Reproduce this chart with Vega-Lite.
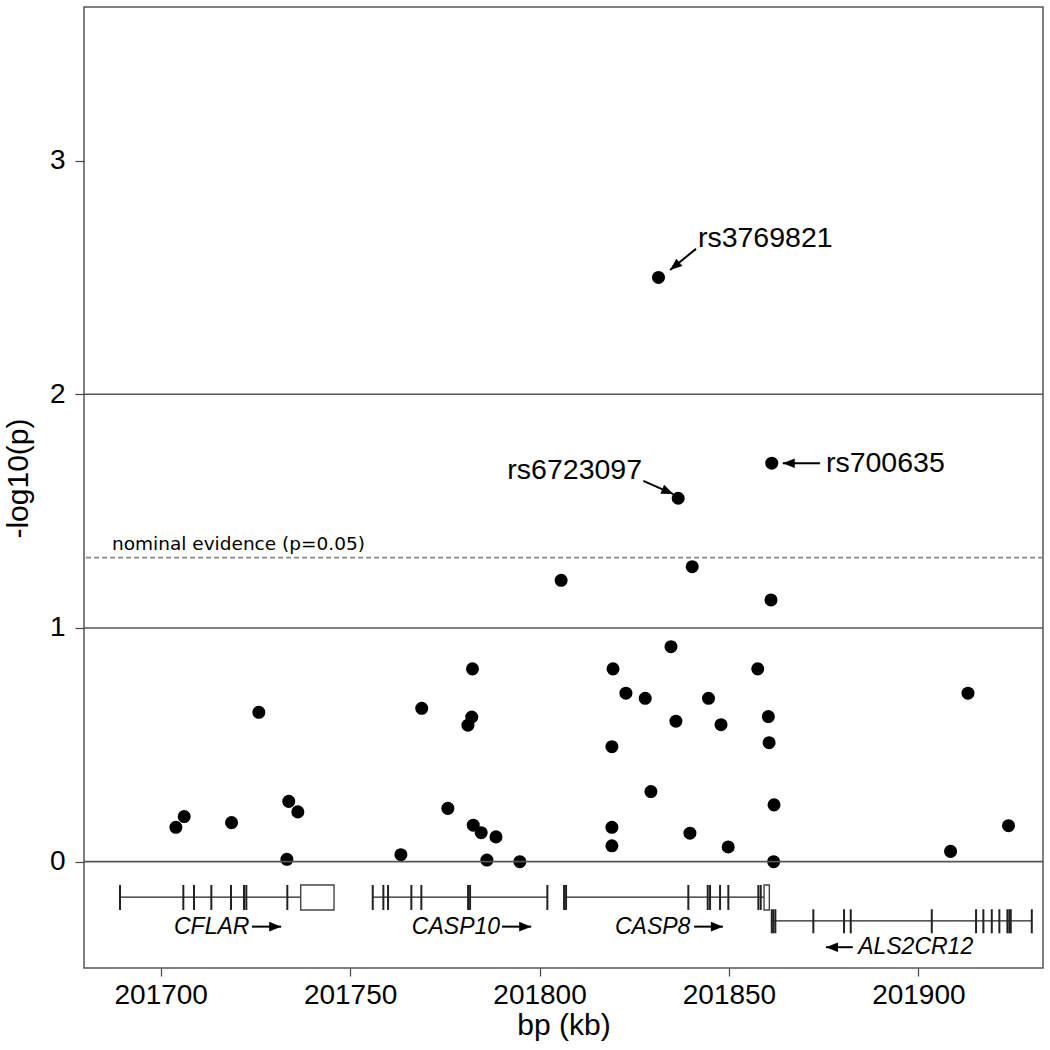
{
  "$schema": "https://vega.github.io/schema/vega-lite/v6.json",
  "width": 959,
  "height": 961,
  "autosize": {"type": "none"},
  "padding": {"left": 84, "top": 7, "right": 7, "bottom": 82},
  "background": "white",
  "config": {
    "view": {"stroke": "#555555", "strokeWidth": 1.5},
    "font": "Liberation Sans"
  },
  "datasets": {
    "snps": [
      {"bp": 201704.0, "logp": 0.147}, {"bp": 201706.2, "logp": 0.193}, {"bp": 201718.7, "logp": 0.167},
      {"bp": 201725.9, "logp": 0.639}, {"bp": 201733.8, "logp": 0.258}, {"bp": 201736.2, "logp": 0.213},
      {"bp": 201733.3, "logp": 0.010}, {"bp": 201763.4, "logp": 0.030}, {"bp": 201768.9, "logp": 0.656},
      {"bp": 201775.8, "logp": 0.228}, {"bp": 201782.3, "logp": 0.825}, {"bp": 201782.1, "logp": 0.619},
      {"bp": 201781.1, "logp": 0.584}, {"bp": 201782.5, "logp": 0.156}, {"bp": 201784.6, "logp": 0.124},
      {"bp": 201788.5, "logp": 0.106}, {"bp": 201786.1, "logp": 0.007}, {"bp": 201794.8, "logp": 0.0},
      {"bp": 201861.3, "logp": 1.705}, {"bp": 201836.6, "logp": 1.555}, {"bp": 201805.7, "logp": 1.204},
      {"bp": 201840.3, "logp": 1.262}, {"bp": 201861.1, "logp": 1.120}, {"bp": 201834.7, "logp": 0.920},
      {"bp": 201819.4, "logp": 0.825}, {"bp": 201857.6, "logp": 0.825}, {"bp": 201822.8, "logp": 0.721},
      {"bp": 201827.9, "logp": 0.699}, {"bp": 201844.6, "logp": 0.699}, {"bp": 201913.1, "logp": 0.721},
      {"bp": 201836.0, "logp": 0.601}, {"bp": 201847.9, "logp": 0.586}, {"bp": 201860.4, "logp": 0.621},
      {"bp": 201819.1, "logp": 0.492}, {"bp": 201860.6, "logp": 0.509}, {"bp": 201829.4, "logp": 0.300},
      {"bp": 201861.9, "logp": 0.243}, {"bp": 201819.1, "logp": 0.147}, {"bp": 201839.7, "logp": 0.122},
      {"bp": 201923.8, "logp": 0.154}, {"bp": 201819.1, "logp": 0.068}, {"bp": 201849.8, "logp": 0.063},
      {"bp": 201908.5, "logp": 0.044}, {"bp": 201861.8, "logp": 0.0}, {"bp": 201831.4, "logp": 2.50}
    ],
    "refs": [{"y": 0}, {"y": 1}, {"y": 2}],
    "labels": [
      {"label": "rs3769821", "bp": 201841.8, "logp": 2.632, "side": "right"},
      {"label": "rs6723097", "bp": 201827.06, "logp": 1.636, "side": "left"},
      {"label": "rs700635", "bp": 201875.6, "logp": 1.666, "side": "right"}
    ],
    "arrows": [
      {"id": "rs3769821", "x1": 201841.3, "y1": 2.622, "x2": 201834.45, "y2": 2.532},
      {"id": "rs6723097", "x1": 201827.4, "y1": 1.629, "x2": 201835.3, "y2": 1.573},
      {"id": "rs700635", "x1": 201874.05, "y1": 1.705, "x2": 201864.2, "y2": 1.705},
      {"id": "CFLAR", "x1": 201724.1, "y1": -0.278, "x2": 201731.8, "y2": -0.278},
      {"id": "CASP10", "x1": 201790.1, "y1": -0.278, "x2": 201797.8, "y2": -0.278},
      {"id": "CASP8", "x1": 201840.8, "y1": -0.278, "x2": 201848.4, "y2": -0.278},
      {"id": "ALS2CR12", "x1": 201882.7, "y1": -0.366, "x2": 201875.6, "y2": -0.366}
    ],
    "genes": [
      {"gene": "CFLAR", "start": 201689.26, "end": 201736.96},
      {"gene": "CASP10", "start": 201755.97, "end": 201802.06},
      {"gene": "CASP8", "start": 201806.47, "end": 201859.26},
      {"gene": "ALS2CR12", "start": 201861.30, "end": 201929.94}
    ],
    "utr": [
      {"gene": "CFLAR", "start": 201736.96, "end": 201745.75},
      {"gene": "CASP8", "start": 201859.26, "end": 201860.66}
    ],
    "exons": [
      {"gene": "CFLAR", "pos": 201689.26}, {"gene": "CFLAR", "pos": 201705.97}, {"gene": "CFLAR", "pos": 201708.79},
      {"gene": "CFLAR", "pos": 201713.36}, {"gene": "CFLAR", "pos": 201718.56}, {"gene": "CFLAR", "pos": 201721.99},
      {"gene": "CFLAR", "pos": 201722.60}, {"gene": "CFLAR", "pos": 201733.42},
      {"gene": "CASP10", "pos": 201755.97}, {"gene": "CASP10", "pos": 201758.77}, {"gene": "CASP10", "pos": 201760.01},
      {"gene": "CASP10", "pos": 201766.16}, {"gene": "CASP10", "pos": 201768.80}, {"gene": "CASP10", "pos": 201781.13},
      {"gene": "CASP10", "pos": 201781.66}, {"gene": "CASP10", "pos": 201802.06},
      {"gene": "CASP8", "pos": 201806.47}, {"gene": "CASP8", "pos": 201807.0}, {"gene": "CASP8", "pos": 201839.28},
      {"gene": "CASP8", "pos": 201844.40}, {"gene": "CASP8", "pos": 201845.01}, {"gene": "CASP8", "pos": 201847.65},
      {"gene": "CASP8", "pos": 201849.84}, {"gene": "CASP8", "pos": 201857.76}, {"gene": "CASP8", "pos": 201858.39},
      {"gene": "ALS2CR12", "pos": 201861.30}, {"gene": "ALS2CR12", "pos": 201861.72}, {"gene": "ALS2CR12", "pos": 201862.25},
      {"gene": "ALS2CR12", "pos": 201872.28}, {"gene": "ALS2CR12", "pos": 201880.38}, {"gene": "ALS2CR12", "pos": 201882.15},
      {"gene": "ALS2CR12", "pos": 201903.54}, {"gene": "ALS2CR12", "pos": 201915.23}, {"gene": "ALS2CR12", "pos": 201917.16},
      {"gene": "ALS2CR12", "pos": 201919.38}, {"gene": "ALS2CR12", "pos": 201921.38}, {"gene": "ALS2CR12", "pos": 201923.50},
      {"gene": "ALS2CR12", "pos": 201924.02}, {"gene": "ALS2CR12", "pos": 201924.39}, {"gene": "ALS2CR12", "pos": 201929.94}
    ],
    "geneLabels": [
      {"gene": "CFLAR", "bp": 201703.5, "track": "upper"},
      {"gene": "CASP10", "bp": 201766.3, "track": "upper"},
      {"gene": "CASP8", "bp": 201819.9, "track": "upper"},
      {"gene": "ALS2CR12", "bp": 201884.1, "track": "lower"}
    ],
    "threshold": [{"y": 1.30103, "text": "nominal evidence (p=0.05)", "x": 201687.14}]
  },
  "layer": [
    {
      "data": {"name": "snps"},
      "mark": {"type": "point", "filled": true, "shape": "circle", "size": 170, "color": "#000000", "opacity": 1},
      "encoding": {
        "x": {
          "field": "bp", "type": "quantitative",
          "scale": {"domain": [201679.75, 201932.9], "nice": false, "zero": false},
          "axis": {
            "values": [201700, 201750, 201800, 201850, 201900], "format": "d",
            "grid": false, "domain": false, "tickSize": 8, "tickColor": "#444444", "tickWidth": 1.2,
            "labelFont": "Liberation Sans", "labelFontSize": 28, "labelColor": "#000000", "labelPadding": 5,
            "title": "bp (kb)", "titleFont": "Liberation Sans", "titleFontSize": 30, "titleFontWeight": "normal",
            "titleColor": "#000000", "titleY": 42, "titleBaseline": "top"
          }
        },
        "y": {
          "field": "logp", "type": "quantitative",
          "scale": {"domain": [-0.455, 3.657], "nice": false, "zero": false},
          "axis": {
            "values": [0, 1, 2, 3], "format": "d",
            "grid": false, "domain": false, "tickSize": 9, "tickColor": "#444444", "tickWidth": 1.2,
            "labelFont": "Liberation Sans", "labelFontSize": 28, "labelColor": "#000000", "labelPadding": 10,
            "title": "-log10(p)", "titleFont": "Liberation Sans", "titleFontSize": 30, "titleFontWeight": "normal",
            "titleColor": "#000000", "titleX": -66, "titleY": 471, "titleBaseline": "middle", "titleAlign": "center", "titleAngle": -90
          }
        }
      }
    },
    {
      "data": {"name": "refs"},
      "mark": {"type": "rule", "color": "#555555", "strokeWidth": 1.6},
      "encoding": {"y": {"field": "y", "type": "quantitative"}}
    },
    {
      "data": {"name": "threshold"},
      "mark": {"type": "rule", "color": "#888888", "strokeWidth": 1.8, "strokeDash": [5, 3]},
      "encoding": {"y": {"field": "y", "type": "quantitative"}}
    },
    {
      "data": {"name": "threshold"},
      "mark": {"type": "text", "font": "DejaVu Sans", "fontSize": 18.5, "align": "left", "baseline": "alphabetic", "color": "#000000", "dy": -8},
      "encoding": {
        "x": {"field": "x", "type": "quantitative"},
        "y": {"field": "y", "type": "quantitative"},
        "text": {"field": "text"}
      }
    },
    {
      "data": {"name": "genes"},
      "transform": [{"filter": "datum.gene !== 'ALS2CR12'"}],
      "mark": {"type": "rule", "color": "#222222", "strokeWidth": 1.3},
      "encoding": {
        "x": {"field": "start", "type": "quantitative"},
        "x2": {"field": "end"},
        "y": {"datum": -0.152}
      }
    },
    {
      "data": {"name": "genes"},
      "transform": [{"filter": "datum.gene === 'ALS2CR12'"}],
      "mark": {"type": "rule", "color": "#222222", "strokeWidth": 1.3},
      "encoding": {
        "x": {"field": "start", "type": "quantitative"},
        "x2": {"field": "end"},
        "y": {"datum": -0.2537}
      }
    },
    {
      "data": {"name": "exons"},
      "transform": [{"filter": "datum.gene !== 'ALS2CR12'"}],
      "mark": {"type": "rule", "color": "#222222", "strokeWidth": 2},
      "encoding": {
        "x": {"field": "pos", "type": "quantitative"},
        "y": {"datum": -0.0997},
        "y2": {"datum": -0.2067}
      }
    },
    {
      "data": {"name": "exons"},
      "transform": [{"filter": "datum.gene === 'ALS2CR12'"}],
      "mark": {"type": "rule", "color": "#222222", "strokeWidth": 2},
      "encoding": {
        "x": {"field": "pos", "type": "quantitative"},
        "y": {"datum": -0.2037},
        "y2": {"datum": -0.3064}
      }
    },
    {
      "data": {"name": "utr"},
      "mark": {"type": "rect", "fill": "#ffffff", "stroke": "#444444", "strokeWidth": 1.4},
      "encoding": {
        "x": {"field": "start", "type": "quantitative"},
        "x2": {"field": "end"},
        "y": {"datum": -0.0997},
        "y2": {"datum": -0.2067}
      }
    },
    {
      "data": {"name": "geneLabels"},
      "transform": [{"filter": "datum.track === 'upper'"}],
      "mark": {"type": "text", "font": "Liberation Sans", "fontStyle": "italic", "fontSize": 23, "align": "left", "baseline": "alphabetic", "color": "#000000"},
      "encoding": {
        "x": {"field": "bp", "type": "quantitative"},
        "y": {"datum": -0.309},
        "text": {"field": "gene"}
      }
    },
    {
      "data": {"name": "geneLabels"},
      "transform": [{"filter": "datum.track === 'lower'"}],
      "mark": {"type": "text", "font": "Liberation Sans", "fontStyle": "italic", "fontSize": 23, "align": "left", "baseline": "alphabetic", "color": "#000000"},
      "encoding": {
        "x": {"field": "bp", "type": "quantitative"},
        "y": {"datum": -0.396},
        "text": {"field": "gene"}
      }
    },
    {
      "data": {"name": "arrows"},
      "mark": {"type": "rule", "color": "#000000", "strokeWidth": 2},
      "encoding": {
        "x": {"field": "x1", "type": "quantitative"},
        "y": {"field": "y1", "type": "quantitative"},
        "x2": {"field": "x2"},
        "y2": {"field": "y2"}
      }
    },
    {
      "data": {"name": "arrows"},
      "transform": [{"filter": "datum.id === 'rs3769821'"}],
      "mark": {"type": "point", "shape": "M0,0L-2,-0.8L-2,0.8Z", "filled": true, "color": "#000000", "size": 144, "angle": 141, "opacity": 1},
      "encoding": {
        "x": {"field": "x2", "type": "quantitative"},
        "y": {"field": "y2", "type": "quantitative"}
      }
    },
    {
      "data": {"name": "arrows"},
      "transform": [{"filter": "datum.id === 'rs6723097'"}],
      "mark": {"type": "point", "shape": "M0,0L-2,-0.8L-2,0.8Z", "filled": true, "color": "#000000", "size": 144, "angle": 23.4, "opacity": 1},
      "encoding": {
        "x": {"field": "x2", "type": "quantitative"},
        "y": {"field": "y2", "type": "quantitative"}
      }
    },
    {
      "data": {"name": "arrows"},
      "transform": [{"filter": "datum.id === 'rs700635' || datum.id === 'ALS2CR12'"}],
      "mark": {"type": "point", "shape": "M0,0L-2,-0.8L-2,0.8Z", "filled": true, "color": "#000000", "size": 144, "angle": 180, "opacity": 1},
      "encoding": {
        "x": {"field": "x2", "type": "quantitative"},
        "y": {"field": "y2", "type": "quantitative"}
      }
    },
    {
      "data": {"name": "arrows"},
      "transform": [{"filter": "datum.id === 'CFLAR' || datum.id === 'CASP10' || datum.id === 'CASP8'"}],
      "mark": {"type": "point", "shape": "M0,0L-2,-0.8L-2,0.8Z", "filled": true, "color": "#000000", "size": 144, "angle": 0, "opacity": 1},
      "encoding": {
        "x": {"field": "x2", "type": "quantitative"},
        "y": {"field": "y2", "type": "quantitative"}
      }
    },
    {
      "data": {"name": "labels"},
      "transform": [{"filter": "datum.side === 'right'"}],
      "mark": {"type": "text", "font": "Liberation Sans", "fontSize": 28.5, "align": "left", "baseline": "alphabetic", "color": "#000000"},
      "encoding": {
        "x": {"field": "bp", "type": "quantitative"},
        "y": {"field": "logp", "type": "quantitative"},
        "text": {"field": "label"}
      }
    },
    {
      "data": {"name": "labels"},
      "transform": [{"filter": "datum.side === 'left'"}],
      "mark": {"type": "text", "font": "Liberation Sans", "fontSize": 28.5, "align": "right", "baseline": "alphabetic", "color": "#000000"},
      "encoding": {
        "x": {"field": "bp", "type": "quantitative"},
        "y": {"field": "logp", "type": "quantitative"},
        "text": {"field": "label"}
      }
    }
  ]
}
